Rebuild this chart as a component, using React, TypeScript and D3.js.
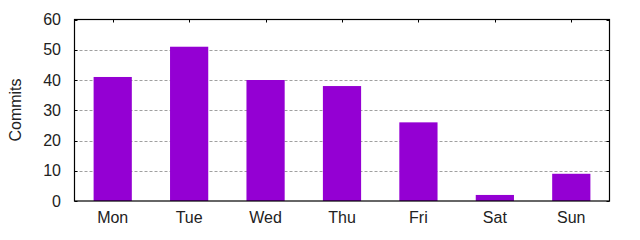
import React from "react";
import * as d3 from "d3";

const days = ["Mon", "Tue", "Wed", "Thu", "Fri", "Sat", "Sun"];
const commits = [41, 51, 40, 38, 26, 2, 9];
const yTicks = [0, 10, 20, 30, 40, 50, 60];

export default function App() {
  const W = 640, H = 240;
  const left = 74.5, right = 609.5, top = 19.5, bottom = 201;
  const x = d3.scaleLinear().domain([-0.5, days.length - 0.5]).range([left, right]);
  const y = d3.scaleLinear().domain([0, 60]).range([bottom, top]);
  const bw = (x(1) - x(0)) * 0.5;
  const font = "'Liberation Sans', Arial, sans-serif";
  return (
    <svg width={W} height={H} style={{ position: "absolute", left: 0, top: 0 }} fontFamily={font}>
      <rect width={W} height={H} fill="white" />
      {yTicks.filter((t) => t > 0 && t < 60).map((t) => (
        <line key={"g" + t} x1={left} x2={right} y1={Math.round(y(t)) + 0.5} y2={Math.round(y(t)) + 0.5}
          stroke="#a0a0a0" strokeWidth={1} strokeDasharray="3,2" />
      ))}
      {commits.map((v, i) => (
        <rect key={days[i]} x={x(i) - bw / 2} y={y(v)} width={bw} height={y(0) - y(v)} fill="#9400d3" />
      ))}
      {yTicks.map((t) => (
        <g key={"t" + t}>
          <line x1={left} x2={left + 3} y1={Math.round(y(t)) + 0.5} y2={Math.round(y(t)) + 0.5} stroke="black" />
          <line x1={right - 3} x2={right} y1={Math.round(y(t)) + 0.5} y2={Math.round(y(t)) + 0.5} stroke="black" />
          <text x={61} y={y(t)} dy="0.35em" textAnchor="end" fontSize={16} fill="#222">{t}</text>
        </g>
      ))}
      {days.map((d, i) => (
        <g key={"x" + d}>
          <line x1={Math.round(x(i)) + 0.5} x2={Math.round(x(i)) + 0.5} y1={top} y2={top + 3} stroke="black" />
          <text x={x(i)} y={217.5} dy="0.35em" textAnchor="middle" fontSize={16} fill="#222">{d}</text>
        </g>
      ))}
      <rect x={left} y={top} width={right - left} height={bottom - top} fill="none" stroke="black" strokeWidth={1.2} />
      <text transform={`translate(21,110) rotate(-90)`} textAnchor="middle" fontSize={16} fill="#222">Commits</text>
    </svg>
  );
}
